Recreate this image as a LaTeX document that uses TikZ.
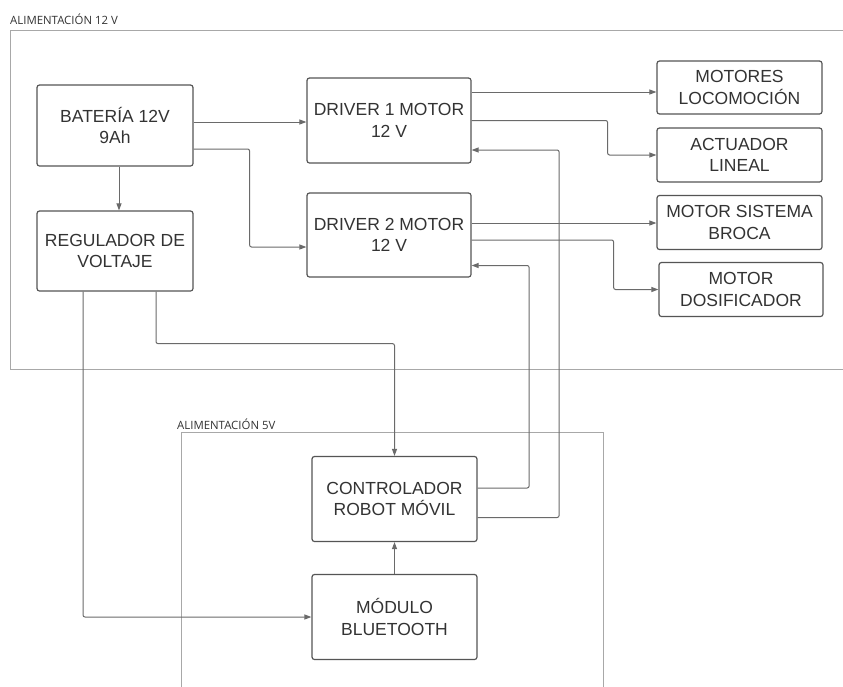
\documentclass[tikz,border=0pt]{standalone}
\usepackage{fontspec}
\setmainfont{Liberation Sans}
\newfontfamily\framefont{Open Sans}
\usetikzlibrary{arrows.meta}

\definecolor{boxline}{HTML}{555555}
\definecolor{wire}{HTML}{6A6A6A}
\definecolor{framecol}{HTML}{A8A8A8}
\definecolor{ink}{HTML}{333333}

\tikzset{
  block/.style={draw=boxline, line width=1.2pt, rounded corners=2.5pt,
    align=center, text=ink, inner sep=0pt,
    font=\fontsize{17.5}{21.5}\selectfont},
  conn/.style={draw=wire, line width=1pt, rounded corners=2pt,
    -{Triangle[length=7pt,width=5pt]}},
  frame/.style={draw=framecol, line width=1pt},
  framelabel/.style={anchor=west, inner sep=0pt, text=ink,
    font=\framefont\fontsize{11.4}{13}\selectfont}
}

\begin{document}
\begin{tikzpicture}[x=1pt, y=-1pt]
  \useasboundingbox (0,0) rectangle (843,686);
  \clip (0,0) rectangle (843,686);
  \fill[white] (0,0) rectangle (843,686);

  % supply zones
  \draw[frame] (10,30) rectangle (870,369);
  \node[framelabel] (lab12) at (10,19) {ALIMENTACIÓN 12 V};
  \draw[frame] (181,432) rectangle (603.5,720);
  \node[framelabel] (lab5) at (177,424) {ALIMENTACIÓN 5V};

  % blocks
  \node[block, minimum width=156pt, minimum height=81pt] (bat) at (115,125.5) {BATERÍA 12V\\9Ah};
  \node[block, minimum width=156pt, minimum height=80pt] (reg) at (115,251) {REGULADOR DE\\VOLTAJE};
  \node[block, minimum width=164pt, minimum height=85pt] (drv1) at (389,120.5) {DRIVER 1 MOTOR\\12 V};
  \node[block, minimum width=164pt, minimum height=84pt] (drv2) at (389,235) {DRIVER 2 MOTOR\\12 V};
  \node[block, minimum width=165pt, minimum height=53pt] (loc) at (739.5,87.5) {MOTORES\\LOCOMOCIÓN};
  \node[block, minimum width=165pt, minimum height=54pt] (act) at (739.5,155) {ACTUADOR\\LINEAL};
  \node[block, minimum width=165pt, minimum height=54pt] (broca) at (739.5,222.5) {MOTOR SISTEMA\\BROCA};
  \node[block, minimum width=164pt, minimum height=54pt] (dosif) at (741,289.5) {MOTOR\\DOSIFICADOR};
  \node[block, minimum width=165pt, minimum height=85pt] (ctrl) at (394.5,499) {CONTROLADOR\\ROBOT MÓVIL};
  \node[block, minimum width=165pt, minimum height=85pt] (bt) at (394.5,617) {MÓDULO\\BLUETOOTH};

  % battery outputs
  \draw[conn] ([yshift=3.5pt]bat.east) -- ([yshift=3.5pt]bat.east -| drv1.west);
  \draw[conn] ([yshift=-23.5pt]bat.east) -- ++(56,0) |- ([yshift=-12pt]drv2.west);
  \draw[conn] ([xshift=4pt]bat.south) -- ([xshift=4pt]reg.north);

  % driver outputs
  \draw[conn] ([yshift=28.5pt]drv1.east) -- ([yshift=28.5pt]drv1.east -| loc.west);
  \draw[conn] (drv1.east) -- ++(136,0) |- (act.west);
  \draw[conn] ([yshift=12pt]drv2.east) -- ([yshift=12pt]drv2.east -| broca.west);
  \draw[conn] ([yshift=-5pt]drv2.east) -- ++(142,0) |- (dosif.west);

  % control lines
  \draw[conn] ([yshift=11pt]ctrl.east) -- ++(51.5,0) |- ([yshift=-30.5pt]drv2.east);
  \draw[conn] ([yshift=-18.5pt]ctrl.east) -- ++(81.5,0) |- ([yshift=-29.5pt]drv1.east);

  % regulator outputs
  \draw[conn] ([xshift=41pt]reg.south) -- ++(0,52) -| (ctrl.north);
  \draw[conn] ([xshift=-32pt]reg.south) |- (bt.west);

  % bluetooth to controller
  \draw[conn] (bt.north) -- (ctrl.south);
\end{tikzpicture}
\end{document}
